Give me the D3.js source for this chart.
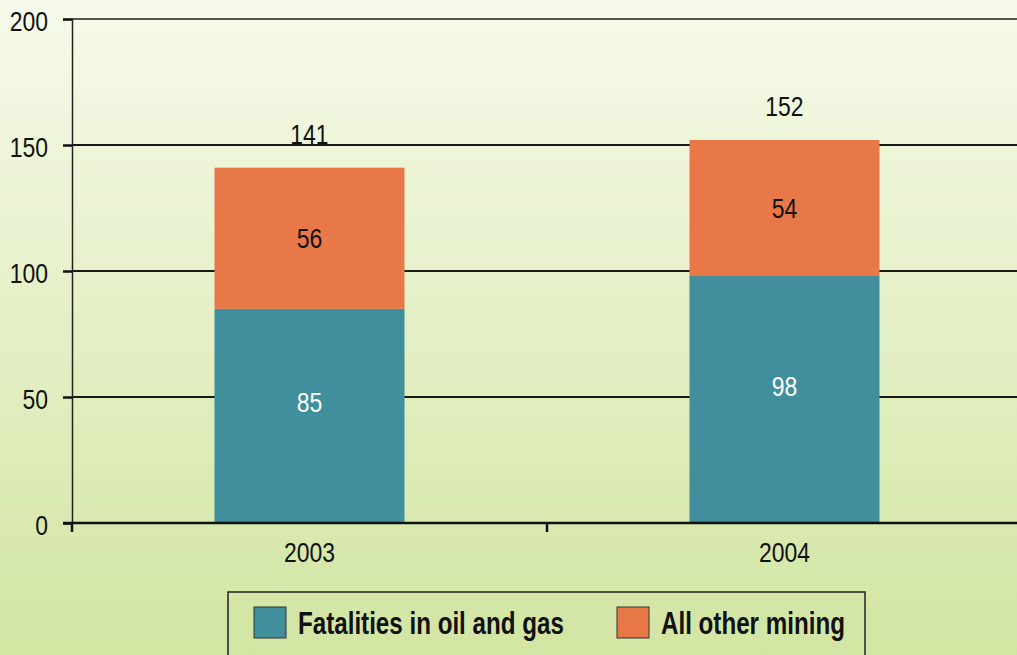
<!DOCTYPE html>
<html>
<head>
<meta charset="utf-8">
<script src="https://cdn.jsdelivr.net/npm/d3@7"></script>
<style>
  body { margin: 0; overflow: hidden; }
  svg { display: block; }
</style>
</head>
<body>
<div id="chart"></div>
<script>
const years = ["2003", "2004"];
const oilGas = [85, 98];
const otherMining = [56, 54];
const totals = [141, 152];
const yTicks = [0, 50, 100, 150, 200];
const seriesNames = ["Fatalities in oil and gas", "All other mining"];
const colors = ["#418f9c", "#e97848"];

const W = 1017, H = 655;
const margin = { top: 19, left: 72, bottom: 132 };
const font = "'Liberation Sans', Arial, sans-serif";
const SX = 0.82; // squeeze to look like a narrow face

// condense text horizontally, keeping its anchor point in place
function narrow(sel, sx) {
  sel.each(function () {
    const t = d3.select(this);
    const xv = +t.attr("x") || 0;
    t.attr("x", xv / sx).attr("transform", `scale(${sx},1)`);
  });
}

const svg = d3.select("#chart").append("svg")
  .attr("width", W).attr("height", H);

// background gradient
const grad = svg.append("defs").append("linearGradient")
  .attr("id", "bg").attr("x1", 0).attr("y1", 0).attr("x2", 0).attr("y2", 1);
grad.append("stop").attr("offset", "0%").attr("stop-color", "#f6faea");
grad.append("stop").attr("offset", "100%").attr("stop-color", "#d2e5a2");
svg.append("rect").attr("width", W).attr("height", H).attr("fill", "url(#bg)");

const x = d3.scaleBand().domain(years).range([margin.left, margin.left + 950]).padding(0);
const y = d3.scaleLinear().domain([0, 200]).range([H - margin.bottom, margin.top]);
const barW = x.bandwidth() * 0.4;

// gridlines
svg.append("g").selectAll("line")
  .data(yTicks.filter(d => d > 0))
  .join("line")
  .attr("x1", margin.left).attr("x2", W)
  .attr("y1", d => y(d)).attr("y2", d => y(d))
  .attr("stroke", d => d === 200 ? "#555" : "#1a1a1a")
  .attr("stroke-width", 2);

// y axis
const yAxis = svg.append("g")
  .attr("transform", `translate(${margin.left},0)`)
  .call(d3.axisLeft(y).tickValues(yTicks).tickSize(9).tickPadding(15));
yAxis.select(".domain").attr("stroke", "#222").attr("stroke-width", 1.5);
yAxis.selectAll(".tick line").attr("stroke", "#111").attr("stroke-width", 2.5);
yAxis.selectAll("text")
  .attr("font-family", font).attr("font-size", 28).attr("fill", "#111")
  .attr("dy", "0.4em")
  .call(narrow, SX);

// stacked bars
const stackData = years.map((yr, i) => ({ year: yr, a: oilGas[i], b: otherMining[i] }));
const stack = d3.stack().keys(["a", "b"])(stackData);

svg.append("g").selectAll("g")
  .data(stack)
  .join("g")
  .attr("fill", (d, i) => colors[i])
  .selectAll("rect")
  .data(d => d)
  .join("rect")
  .attr("x", d => x(d.data.year) + (x.bandwidth() - barW) / 2)
  .attr("width", barW)
  .attr("y", d => y(d[1]))
  .attr("height", d => y(d[0]) - y(d[1]));

// segment labels
stack.forEach((s, si) => {
  svg.append("g").selectAll("text")
    .data(s)
    .join("text")
    .attr("x", d => x(d.data.year) + x.bandwidth() / 2)
    .attr("y", d => (y(d[0]) + y(d[1])) / 2 + (si === 0 ? -4 : 10))
    .attr("text-anchor", "middle")
    .attr("font-family", font).attr("font-size", 28)
    .attr("fill", si === 0 ? "#fff" : "#111")
    .text(d => d[1] - d[0])
    .call(narrow, SX);
});

// totals
svg.append("g").selectAll("text")
  .data(years)
  .join("text")
  .attr("x", d => x(d) + x.bandwidth() / 2)
  .attr("y", (d, i) => y(totals[i]) - 24)
  .attr("text-anchor", "middle")
  .attr("font-family", font).attr("font-size", 28).attr("fill", "#111")
  .text((d, i) => totals[i])
  .call(narrow, SX);

// x axis
const xAxisG = svg.append("g").attr("transform", `translate(0,${y(0)})`);
xAxisG.append("line")
  .attr("x1", margin.left - 9).attr("x2", W)
  .attr("stroke", "#111").attr("stroke-width", 2.5);
xAxisG.selectAll(".xt")
  .data([...years.map(d => x(d)), x(years[1]) + x.bandwidth()])
  .join("line")
  .attr("x1", d => d).attr("x2", d => d)
  .attr("y1", 0).attr("y2", 9)
  .attr("stroke", "#111").attr("stroke-width", 2.5);
xAxisG.selectAll("text")
  .data(years)
  .join("text")
  .attr("x", d => x(d) + x.bandwidth() / 2)
  .attr("y", 39)
  .attr("text-anchor", "middle")
  .attr("font-family", font).attr("font-size", 28).attr("fill", "#111")
  .text(d => d)
  .call(narrow, SX);

// legend
const lg = svg.append("g");
lg.append("rect")
  .attr("x", 228).attr("y", 592).attr("width", 637).attr("height", 80)
  .attr("fill", "none").attr("stroke", "#222").attr("stroke-width", 1.5);
const legendX = [254, 617];
seriesNames.forEach((name, i) => {
  lg.append("rect")
    .attr("x", legendX[i]).attr("y", 607).attr("width", 32).attr("height", 31)
    .attr("fill", colors[i]).attr("stroke", "#333").attr("stroke-width", 1);
  lg.append("text")
    .attr("x", legendX[i] + 44).attr("y", 634)
    .attr("font-family", font).attr("font-size", 31).attr("font-weight", "bold")
    .attr("fill", "#111")
    .text(name)
    .call(narrow, 0.78);
});
</script>
</body>
</html>
